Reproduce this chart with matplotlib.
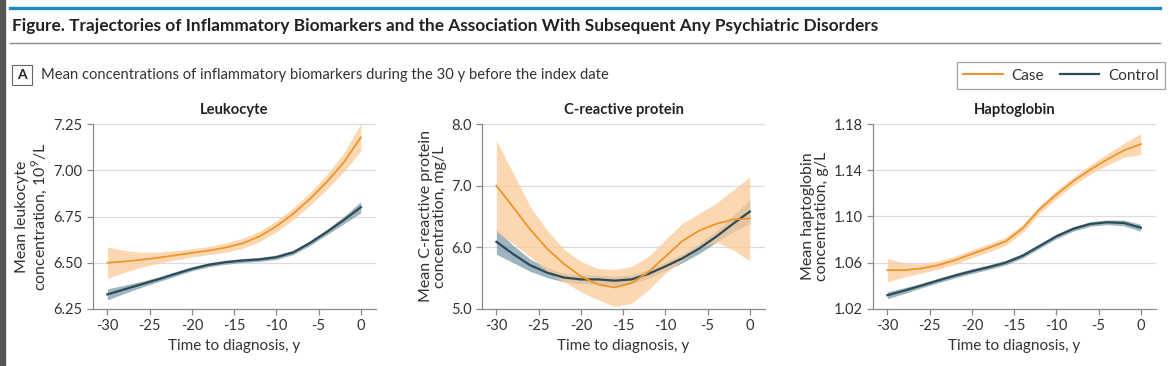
import matplotlib
matplotlib.use("Agg")
import matplotlib.pyplot as plt
from matplotlib.patches import Rectangle
from matplotlib.lines import Line2D

plt.rcParams["font.family"] = ["Lato", "DejaVu Sans"]
plt.rcParams["mathtext.fontset"] = "custom"
plt.rcParams["mathtext.rm"] = "Lato"

# data (years before diagnosis)
years = [-30, -28, -26, -24, -22, -20, -18, -16, -14, -12, -10, -8, -6, -4, -2, 0]

leuk_case = [6.500, 6.507, 6.516, 6.527, 6.540, 6.553, 6.566, 6.582, 6.605, 6.642,
             6.697, 6.765, 6.846, 6.938, 7.043, 7.178]
leuk_case_hw = [0.085, 0.06, 0.04, 0.03, 0.025, 0.022, 0.022, 0.025, 0.027, 0.028,
                0.03, 0.032, 0.035, 0.04, 0.05, 0.075]
leuk_ctrl = [6.329, 6.356, 6.383, 6.410, 6.439, 6.467, 6.489, 6.503, 6.512, 6.518,
             6.530, 6.556, 6.607, 6.667, 6.731, 6.800]
leuk_ctrl_hw = [0.03, 0.022, 0.016, 0.013, 0.012, 0.011, 0.011, 0.011, 0.011, 0.011,
                0.012, 0.012, 0.013, 0.015, 0.02, 0.03]

crp_case = [7.00, 6.65, 6.29, 5.98, 5.73, 5.53, 5.40, 5.35, 5.42, 5.60,
            5.85, 6.10, 6.27, 6.38, 6.45, 6.47]
crp_case_hi = [7.74, 7.20, 6.66, 6.28, 5.97, 5.77, 5.66, 5.64, 5.69, 5.85,
               6.12, 6.39, 6.55, 6.71, 6.93, 7.14]
crp_case_lo = [6.25, 6.06, 5.85, 5.61, 5.44, 5.28, 5.15, 5.04, 5.09, 5.31,
               5.58, 5.79, 5.98, 6.09, 5.96, 5.78]
crp_ctrl = [6.09, 5.89, 5.71, 5.59, 5.51, 5.48, 5.48, 5.46, 5.48, 5.57,
            5.69, 5.82, 5.98, 6.17, 6.38, 6.58]
crp_ctrl_hw = [0.2, 0.14, 0.1, 0.08, 0.07, 0.07, 0.07, 0.07, 0.07, 0.07,
               0.07, 0.07, 0.08, 0.09, 0.13, 0.2]

hapt_case = [1.0536, 1.0536, 1.0550, 1.0579, 1.0622, 1.0677, 1.0729, 1.0785, 1.0897, 1.1060,
             1.1190, 1.1305, 1.1405, 1.1492, 1.1572, 1.1626]
hapt_case_hw = [0.010, 0.006, 0.004, 0.0035, 0.0035, 0.0035, 0.0035, 0.0035, 0.0035, 0.0035,
                0.0035, 0.0035, 0.004, 0.005, 0.006, 0.009]
hapt_ctrl = [1.0319, 1.0359, 1.0402, 1.0446, 1.0489, 1.0527, 1.0562, 1.0601, 1.0660, 1.0744,
             1.0828, 1.0893, 1.0935, 1.0950, 1.0944, 1.0903]
hapt_ctrl_hw = [0.003, 0.0025, 0.002, 0.002, 0.002, 0.002, 0.002, 0.002, 0.002, 0.002,
                0.002, 0.002, 0.002, 0.002, 0.0025, 0.003]

panel_titles = ["Leukocyte", "C-reactive protein", "Haptoglobin"]
ylabels = ["Mean leukocyte\nconcentration, 10$^9$/L",
           "Mean C-reactive protein\nconcentration, mg/L",
           "Mean haptoglobin\nconcentration, g/L"]
yticks = [[6.25, 6.50, 6.75, 7.00, 7.25], [5.0, 6.0, 7.0, 8.0], [1.02, 1.06, 1.10, 1.14, 1.18]]
yfmt = ["{:.2f}", "{:.1f}", "{:.2f}"]
xticks = [-30, -25, -20, -15, -10, -5, 0]

case_c = "#EE952A"
case_band = "#FCCB98"
ctrl_c = "#2C4A57"
ctrl_band = "#7D9CA8"
txt = "#333333"

W, H = 1170, 366
fig = plt.figure(figsize=(W / 100, H / 100), dpi=100)

# frame decorations
fig.patches.append(Rectangle((0, 0), 5 / W, 1, transform=fig.transFigure, color="#555555"))
fig.lines.append(Line2D([10 / W, 1160 / W], [1 - 8 / H, 1 - 8 / H], transform=fig.transFigure,
                        color="#1B8CC6", lw=2.4))
fig.lines.append(Line2D([10 / W, 1160 / W], [1 - 43 / H, 1 - 43 / H], transform=fig.transFigure,
                        color="#8A8A8A", lw=1.0))
fig.text(12 / W, 1 - 26 / H, "Figure. Trajectories of Inflammatory Biomarkers and the Association "
         "With Subsequent Any Psychiatric Disorders", fontsize=12.4, fontweight="bold",
         color="#222222", va="center", ha="left")
fig.patches.append(Rectangle((12 / W, 1 - 85 / H), 20 / W, 20 / H, transform=fig.transFigure,
                             fill=False, ec="#666666", lw=0.8))
fig.text(22 / W, 1 - 75 / H, "A", fontsize=10, fontweight="bold", color="#222222",
         ha="center", va="center")
fig.text(41 / W, 1 - 75 / H, "Mean concentrations of inflammatory biomarkers during the 30 y "
         "before the index date", fontsize=10.6, color=txt, ha="left", va="center")

lefts = [93, 482, 873]
series = [
    (leuk_case, [a - b for a, b in zip(leuk_case, leuk_case_hw)], [a + b for a, b in zip(leuk_case, leuk_case_hw)],
     leuk_ctrl, leuk_ctrl_hw),
    (crp_case, crp_case_lo, crp_case_hi, crp_ctrl, crp_ctrl_hw),
    (hapt_case, [a - b for a, b in zip(hapt_case, hapt_case_hw)], [a + b for a, b in zip(hapt_case, hapt_case_hw)],
     hapt_ctrl, hapt_ctrl_hw),
]

for i in range(3):
    ax = fig.add_axes([lefts[i] / W, 57 / H, 283 / W, 185 / H])
    case, lo, hi, ctrl, chw = series[i]
    ax.fill_between(years, [a - b for a, b in zip(ctrl, chw)], [a + b for a, b in zip(ctrl, chw)],
                    color=ctrl_band, alpha=0.75, lw=0, zorder=2)
    ax.fill_between(years, lo, hi, color=case_band, alpha=0.75, lw=0, zorder=3)
    ax.plot(years, ctrl, color=ctrl_c, lw=1.6, zorder=4, label="Control")
    ax.plot(years, case, color=case_c, lw=1.3, zorder=5, label="Case")
    ax.set_xlim(-31.7, 1.8)
    ax.set_ylim(yticks[i][0], yticks[i][-1])
    ax.set_yticks(yticks[i])
    ax.set_yticklabels([yfmt[i].format(v) for v in yticks[i]])
    ax.set_xticks(xticks)
    ax.set_xticklabels([str(v) for v in xticks])
    for v in yticks[i][1:]:
        ax.axhline(v, color="#DCDCDC", lw=0.9, zorder=1)
    for s in ["top", "right"]:
        ax.spines[s].set_visible(False)
    for s in ["left", "bottom"]:
        ax.spines[s].set_color("#8A8A8A")
        ax.spines[s].set_linewidth(0.9)
    ax.tick_params(colors="#8A8A8A", labelcolor=txt, labelsize=10.5, length=4, width=0.9)
    ax.set_title(panel_titles[i], fontsize=10.6, fontweight="bold", color="#222222", pad=7)
    ax.set_xlabel("Time to diagnosis, y", fontsize=11, color=txt, labelpad=4)
    ax.set_ylabel(ylabels[i], fontsize=11.5, color=txt, labelpad=3, linespacing=1.0)

# legend
handles = [Line2D([], [], color=case_c, lw=1.5), Line2D([], [], color=ctrl_c, lw=1.6)]
leg = fig.legend(handles, ["Case", "Control"], loc="center", ncol=2,
                 bbox_to_anchor=(1061 / W, 1 - 75.5 / H), frameon=True, fancybox=False,
                 fontsize=11, handlelength=2.6, handletextpad=0.6, columnspacing=1.0,
                 borderpad=0.4, borderaxespad=0)
leg.get_frame().set_edgecolor("#8A8A8A")
leg.get_frame().set_linewidth(0.9)
for t in leg.get_texts():
    t.set_color(txt)

fig.savefig("out.png", dpi=100)
